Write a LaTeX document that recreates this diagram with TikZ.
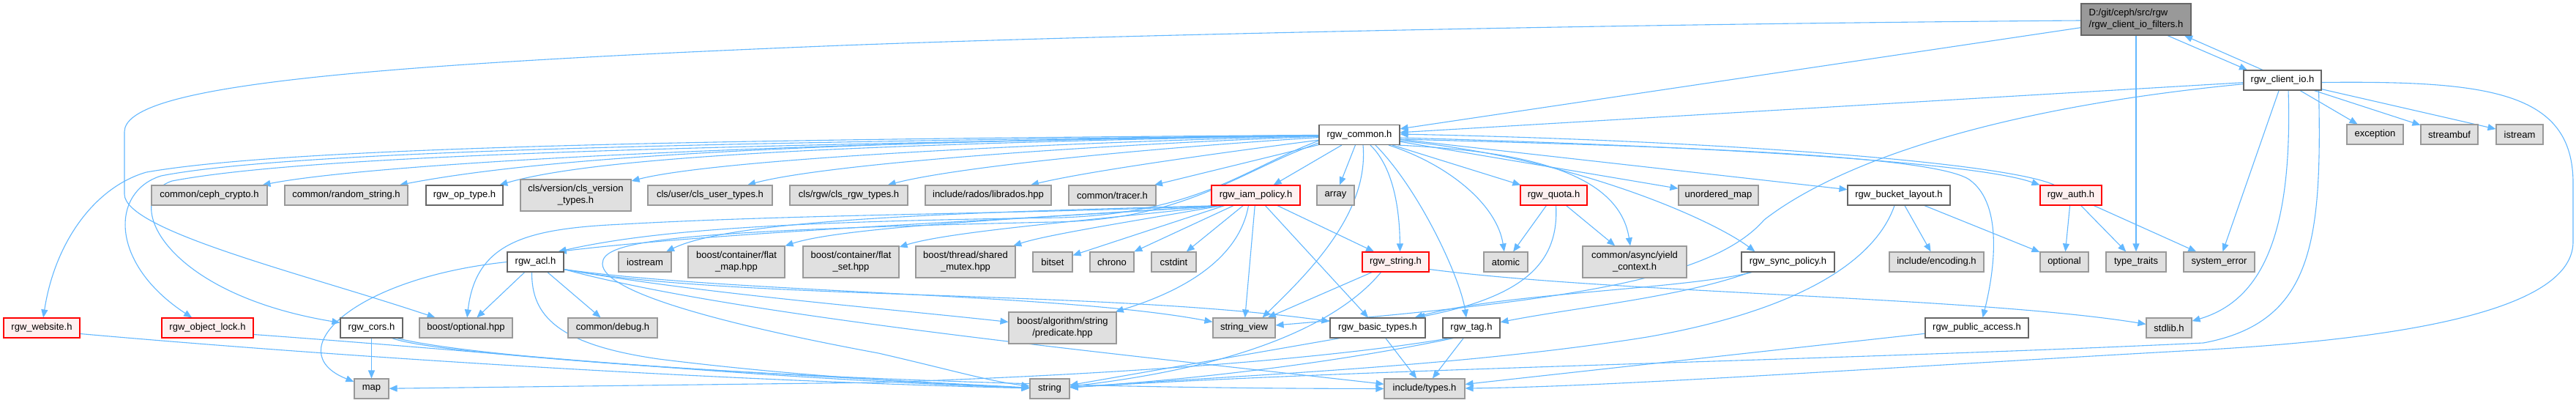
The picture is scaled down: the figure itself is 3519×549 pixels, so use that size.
\documentclass[tikz,border=0pt]{standalone}
\usepackage{fontspec}
\setmainfont{Liberation Sans}
\usetikzlibrary{arrows.meta,calc}
\definecolor{edgec}{HTML}{63B8FF}
\definecolor{sysfill}{HTML}{E0E0E0}
\definecolor{sysdraw}{HTML}{999999}
\definecolor{locdraw}{HTML}{666666}
\definecolor{trfill}{HTML}{FFF0F0}
\definecolor{trdraw}{HTML}{FF0000}
\definecolor{rootfill}{HTML}{999999}
\definecolor{rootdraw}{HTML}{666666}
\pgfdeclarelayer{bg}
\pgfsetlayers{bg,main}
\begin{document}
\begin{tikzpicture}[x=1pt,y=-1pt,
  box/.style={draw, line width=1.1pt, inner sep=0pt, minimum height=27pt, font=\fontsize{13}{16}\selectfont},
  two/.style={minimum height=43pt, align=center},
  sysn/.style={box, fill=sysfill, draw=sysdraw},
  locn/.style={box, fill=white, draw=locdraw},
  trn/.style={box, fill=trfill, draw=trdraw},
  rootn/.style={box, fill=rootfill, draw=rootdraw},
  dep/.style={draw=edgec, line width=1.1pt, -{Triangle[length=11pt,width=9pt]}},
]
\useasboundingbox (0,0) rectangle (3519,549);
% ---------- nodes ----------
\node[rootn, minimum width=150pt, minimum height=43pt, align=left] (F) at (2918,26.5) {D:/git/ceph/src/rgw\\/rgw\_client\_io\_filters.h};
\node[locn, minimum width=106pt] (CIO) at (3118,109.5) {rgw\_client\_io.h};
\node[sysn, minimum width=77pt] (exc) at (3244.5,183.5) {exception};
\node[sysn, minimum width=78pt] (sbuf) at (3346,183.5) {streambuf};
\node[sysn, minimum width=64pt] (istr) at (3442,183.5) {istream};
\node[locn, minimum width=110pt] (common) at (1857,184) {rgw\_common.h};
% row 2
\node[sysn, minimum width=158pt] (ceph) at (286,266.5) {common/ceph\_crypto.h};
\node[sysn, minimum width=168pt] (rand) at (473,266.5) {common/random\_string.h};
\node[locn, minimum width=105pt] (optype) at (634.5,266.5) {rgw\_op\_type.h};
\node[sysn, two, minimum width=151pt] (clsver) at (786.5,266.5) {cls/version/cls\_version\\\_types.h};
\node[sysn, minimum width=170pt] (clsuser) at (970,266.5) {cls/user/cls\_user\_types.h};
\node[sysn, minimum width=161pt] (clsrgw) at (1159.5,266.5) {cls/rgw/cls\_rgw\_types.h};
\node[sysn, minimum width=172pt] (rados) at (1350,266.5) {include/rados/librados.hpp};
\node[sysn, minimum width=119pt] (tracer) at (1519.5,266.5) {common/tracer.h};
\node[trn, minimum width=121pt] (iam) at (1715.5,266.5) {rgw\_iam\_policy.h};
\node[sysn, minimum width=51pt] (array) at (1824.5,266.5) {array};
\node[trn, minimum width=91pt] (quota) at (2122.5,266.5) {rgw\_quota.h};
\node[sysn, minimum width=109pt] (umap) at (2347.5,266.5) {unordered\_map};
\node[locn, minimum width=140pt] (blayout) at (2594,266.5) {rgw\_bucket\_layout.h};
\node[trn, minimum width=84pt] (auth) at (2829,266.5) {rgw\_auth.h};
% row 3
\node[locn, minimum width=77pt] (acl) at (731.5,357.5) {rgw\_acl.h};
\node[sysn, minimum width=72pt] (iostr) at (881,357.5) {iostream};
\node[sysn, two, minimum width=132pt] (fmap) at (1006,357.5) {boost/container/flat\\\_map.hpp};
\node[sysn, two, minimum width=131pt] (fset) at (1162.5,357.5) {boost/container/flat\\\_set.hpp};
\node[sysn, two, minimum width=136pt] (smutex) at (1319,357.5) {boost/thread/shared\\\_mutex.hpp};
\node[sysn, minimum width=54pt] (bitset) at (1438,357.5) {bitset};
\node[sysn, minimum width=60pt] (chrono) at (1519,357.5) {chrono};
\node[sysn, minimum width=61pt] (cstdint) at (1603.5,357.5) {cstdint};
\node[trn, minimum width=91pt] (rstr) at (1906.5,357.5) {rgw\_string.h};
\node[sysn, minimum width=60pt] (atomic) at (2057,357.5) {atomic};
\node[sysn, two, minimum width=142pt] (yield) at (2233,357.5) {common/async/yield\\\_context.h};
\node[locn, minimum width=127pt] (sync) at (2442.5,357.5) {rgw\_sync\_policy.h};
\node[sysn, minimum width=129pt] (enc) at (2645.5,357.5) {include/encoding.h};
\node[sysn, minimum width=66pt] (opt) at (2820,357.5) {optional};
\node[sysn, minimum width=82pt] (tt) at (2918,357.5) {type\_traits};
\node[sysn, minimum width=97pt] (syserr) at (3031.5,357.5) {system\_error};
% row 4
\node[trn, minimum width=104pt] (web) at (57,447.5) {rgw\_website.h};
\node[trn, minimum width=125pt] (olock) at (283.5,447.5) {rgw\_object\_lock.h};
\node[locn, minimum width=85pt] (cors) at (507.5,447.5) {rgw\_cors.h};
\node[sysn, minimum width=127pt] (bopt) at (636.5,447.5) {boost/optional.hpp};
\node[sysn, minimum width=122pt] (debug) at (837,447.5) {common/debug.h};
\node[sysn, two, minimum width=147pt] (pred) at (1451.5,447.5) {boost/algorithm/string\\/predicate.hpp};
\node[sysn, minimum width=85pt] (sv) at (1699.5,447.5) {string\_view};
\node[locn, minimum width=130pt] (basic) at (1882,447.5) {rgw\_basic\_types.h};
\node[locn, minimum width=78pt] (tag) at (2010,447.5) {rgw\_tag.h};
\node[locn, minimum width=141pt] (pub) at (2700.5,447.5) {rgw\_public\_access.h};
\node[sysn, minimum width=62pt] (stdlib) at (2963,447.5) {stdlib.h};
% row 5
\node[sysn, minimum width=47pt] (map) at (507.5,530.5) {map};
\node[sysn, minimum width=54pt] (string) at (1434,530.5) {string};
\node[sysn, minimum width=110pt] (types) at (1946,530.5) {include/types.h};
% ---------- edges ----------
\begin{pgfonlayer}{bg}
\fill[white] (0,0) rectangle (3519,549);
% root
\draw[dep] (F) -- (common);
\draw[dep] ($(F.west)+(0,1.5)$) .. controls (2300,32) and (1600,45) .. (1150,62) .. controls (450,90) and (170,120) .. (170,180) -- (170,265) .. controls (170,315) and (420,375) .. (bopt);
\draw[dep] ($(F.south)+(43,0)$) -- ($(CIO.north)+(-48,0)$);
\draw[dep] ($(CIO.north)+(-27,0)$) -- ($(F.south)+(66,0)$);
\draw[dep] (F) -- (tt);
% rgw_client_io.h
\draw[dep] (CIO) -- (common);
\draw[dep] (CIO) -- (exc);
\draw[dep] (CIO) -- (sbuf);
\draw[dep] (CIO) -- (istr);
\draw[dep] (CIO) -- (syserr);
\draw[dep] ($(CIO.south)+(8,0)$) .. controls (3132,320) and (3090,410) .. (stdlib);
\draw[dep] ($(CIO.south east)+(-4,0)$) .. controls (3172,330) and (3160,440) .. (3010,468) .. controls (2500,492) and (1900,502) .. (string);
\draw[dep] ($(CIO.east)+(0,3)$) .. controls (3400,110) and (3515,125) .. (3515,250) -- (3515,330) .. controls (3515,420) and (3300,462) .. (3000,478) .. controls (2600,500) and (2200,528) .. (types);
\draw[dep] (CIO) .. controls (2700,150) and (2500,230) .. (2410,300) .. controls (2340,380) and (2150,410) .. (sv);
% rgw_common.h to row 2
\draw[dep] (common) .. controls (1000,195) and (500,225) .. (ceph);
\draw[dep] (common) .. controls (1100,193) and (740,215) .. (rand);
\draw[dep] (common) .. controls (1200,196) and (820,212) .. (optype);
\draw[dep] (common) .. controls (1300,199) and (960,222) .. (clsver);
\draw[dep] (common) .. controls (1400,202) and (1110,228) .. (clsuser);
\draw[dep] (common) .. controls (1500,207) and (1290,232) .. (clsrgw);
\draw[dep] (common) .. controls (1640,212) and (1480,235) .. (rados);
\draw[dep] (common) -- (tracer);
\draw[dep] (common) -- (iam);
\draw[dep] (common) -- (array);
\draw[dep] (common) -- (quota);
\draw[dep] (common) -- (umap);
\draw[dep] (common) -- (blayout);
\draw[dep] ($(common.east)+(0,4)$) .. controls (2350,200) and (2700,222) .. (auth.north west);
\draw[dep] ($(auth.north west)+(20,0)$) .. controls (2740,222) and (2350,192) .. ($(common.east)+(0,-1)$);
% rgw_common.h to lower rows
\draw[dep] (common) .. controls (1000,190) and (400,200) .. (200,235) .. controls (130,255) and (75,330) .. (web);
\draw[dep] (common) .. controls (1000,194) and (400,205) .. (220,240) .. controls (150,262) and (150,360) .. (olock);
\draw[dep] (common) .. controls (1000,198) and (430,210) .. (235,247) .. controls (165,270) and (220,400) .. (cors);
\draw[dep] ($(common.west)+(0,8)$) .. controls (1700,230) and (1640,290) .. (1450,297) .. controls (1100,302) and (900,312) .. ($(acl.north east)+(-8,0)$);
\draw[dep] ($(common.west)+(0,11)$) .. controls (1690,235) and (1620,300) .. (1440,303) .. controls (900,315) and (823,330) .. (823,360) .. controls (823,400) and (1000,445) .. (1200,482) .. controls (1300,505) and (1350,520) .. (string);
\draw[dep] ($(common.south)+(5,0)$) .. controls (1870,290) and (1790,370) .. ($(sv.north)+(25,0)$);
\draw[dep] ($(common.south)+(15,0)$) .. controls (1905,230) and (1912,290) .. ($(rstr.north)+(6,0)$);
\draw[dep] ($(common.south)+(22,0)$) .. controls (1940,260) and (1995,380) .. ($(tag.north)+(-7,0)$);
\draw[dep] ($(common.south)+(40,0)$) .. controls (1980,225) and (2045,280) .. (atomic);
\draw[dep] ($(common.south east)+(-3,0)$) .. controls (2050,205) and (2210,225) .. ($(yield.north)+(-6,0)$);
\draw[dep] ($(common.east)+(0,8)$) .. controls (2150,215) and (2340,300) .. ($(sync.north)+(-45,0)$);
\draw[dep] ($(common.east)+(0,6)$) .. controls (2300,200) and (2640,212) .. (2690,245) .. controls (2740,280) and (2722,380) .. ($(pub.north)+(8,0)$);
% rgw_auth.h
\draw[dep] (auth) -- (opt);
\draw[dep] (auth) -- (tt);
\draw[dep] (auth) -- (syserr);
% rgw_bucket_layout.h
\draw[dep] (blayout) -- (enc);
\draw[dep] (blayout) -- (opt);
\draw[dep] ($(blayout.south)+(-6,0)$) .. controls (2560,360) and (2450,425) .. (2250,460) .. controls (2000,500) and (1700,512) .. (string);
% rgw_public_access.h
\draw[dep] (pub) -- (types);
% rgw_iam_policy.h
\coordinate (iamsw) at ($(iam.south west)+(15,0)$);
\draw[dep] (iamsw) .. controls (1400,292) and (1100,292) .. (850,306) .. controls (720,312) and (650,330) .. (bopt);
\draw[dep] (iamsw) .. controls (1400,300) and (1000,315) .. ($(acl.north east)+(-8,0)$);
\draw[dep] (iamsw) .. controls (1300,290) and (1000,300) .. (iostr);
\draw[dep] (iamsw) .. controls (1400,298) and (1150,310) .. (fmap);
\draw[dep] (iamsw) .. controls (1500,300) and (1300,315) .. (fset);
\draw[dep] (iamsw) .. controls (1560,300) and (1430,320) .. (smutex);
\draw[dep] (iam) -- (bitset);
\draw[dep] (iam) -- (chrono);
\draw[dep] (iam) -- (cstdint);
\draw[dep] ($(iam.south)+(-10,0)$) .. controls (1695,340) and (1640,390) .. (pred);
\draw[dep] (iam) -- (sv);
\draw[dep] (iam) -- (basic);
\draw[dep] (iam) -- (rstr);
% rgw_quota.h
\draw[dep] (quota) -- (atomic);
\draw[dep] (quota) -- (yield);
\draw[dep] ($(quota.south)+(3,0)$) .. controls (2130,360) and (2080,405) .. ($(basic.north east)+(-12,0)$);
% rgw_string.h
\draw[dep] ($(rstr.south)+(-20,0)$) .. controls (1830,440) and (1700,500) .. (string);
\draw[dep] (rstr) -- (sv);
\draw[dep] ($(rstr.east)+(0,10)$) .. controls (2200,400) and (2700,405) .. (stdlib);
% rgw_sync_policy.h
\draw[dep] ($(sync.south west)+(15,0)$) .. controls (2300,395) and (2050,400) .. ($(basic.north east)+(-15,0)$);
\draw[dep] ($(sync.south west)+(12,0)$) .. controls (2300,405) and (2150,420) .. (tag);
% rgw_acl.h
\draw[dep] (acl.west) .. controls (480,380) and (380,480) .. (map);
\draw[dep] (acl) -- (bopt);
\draw[dep] (acl) -- (debug);
\draw[dep] ($(acl.south)+(-5,0)$) .. controls (726,430) and (760,470) .. (900,490) .. controls (1100,515) and (1300,525) .. (string);
\coordinate (aclse) at ($(acl.south east)+(0,-4)$);
\draw[dep] (aclse) .. controls (1000,410) and (1500,395) .. (basic);
\draw[dep] (aclse) .. controls (1000,400) and (1450,400) .. (sv);
\draw[dep] (aclse) .. controls (950,400) and (1200,420) .. (pred);
\draw[dep] (aclse) .. controls (1000,430) and (1500,480) .. (types);
% rgw_cors.h, rgw_website.h, rgw_object_lock.h
\draw[dep] (cors) -- (map);
\draw[dep] ($(cors.south east)+(-15,0)$) .. controls (600,485) and (1000,508) .. (string);
\draw[dep] ($(cors.south east)+(-8,0)$) .. controls (650,490) and (1200,530) .. (types);
\draw[dep] ($(web.east)+(0,8)$) .. controls (500,490) and (1000,520) .. (string);
\draw[dep] ($(olock.east)+(0,9)$) .. controls (700,482) and (1000,515) .. (string);
% rgw_basic_types.h, rgw_tag.h
\draw[dep] ($(basic.south west)+(14,0)$) -- (string);
\draw[dep] (basic) -- (types);
\draw[dep] (tag) -- (types);
\draw[dep] ($(tag.south west)+(15,0)$) .. controls (1800,500) and (1600,520) .. (string);
\draw[dep] ($(tag.south west)+(10,0)$) .. controls (1800,492) and (1500,512) .. (1200,522) -- (map);
\end{pgfonlayer}
\end{tikzpicture}
\end{document}
